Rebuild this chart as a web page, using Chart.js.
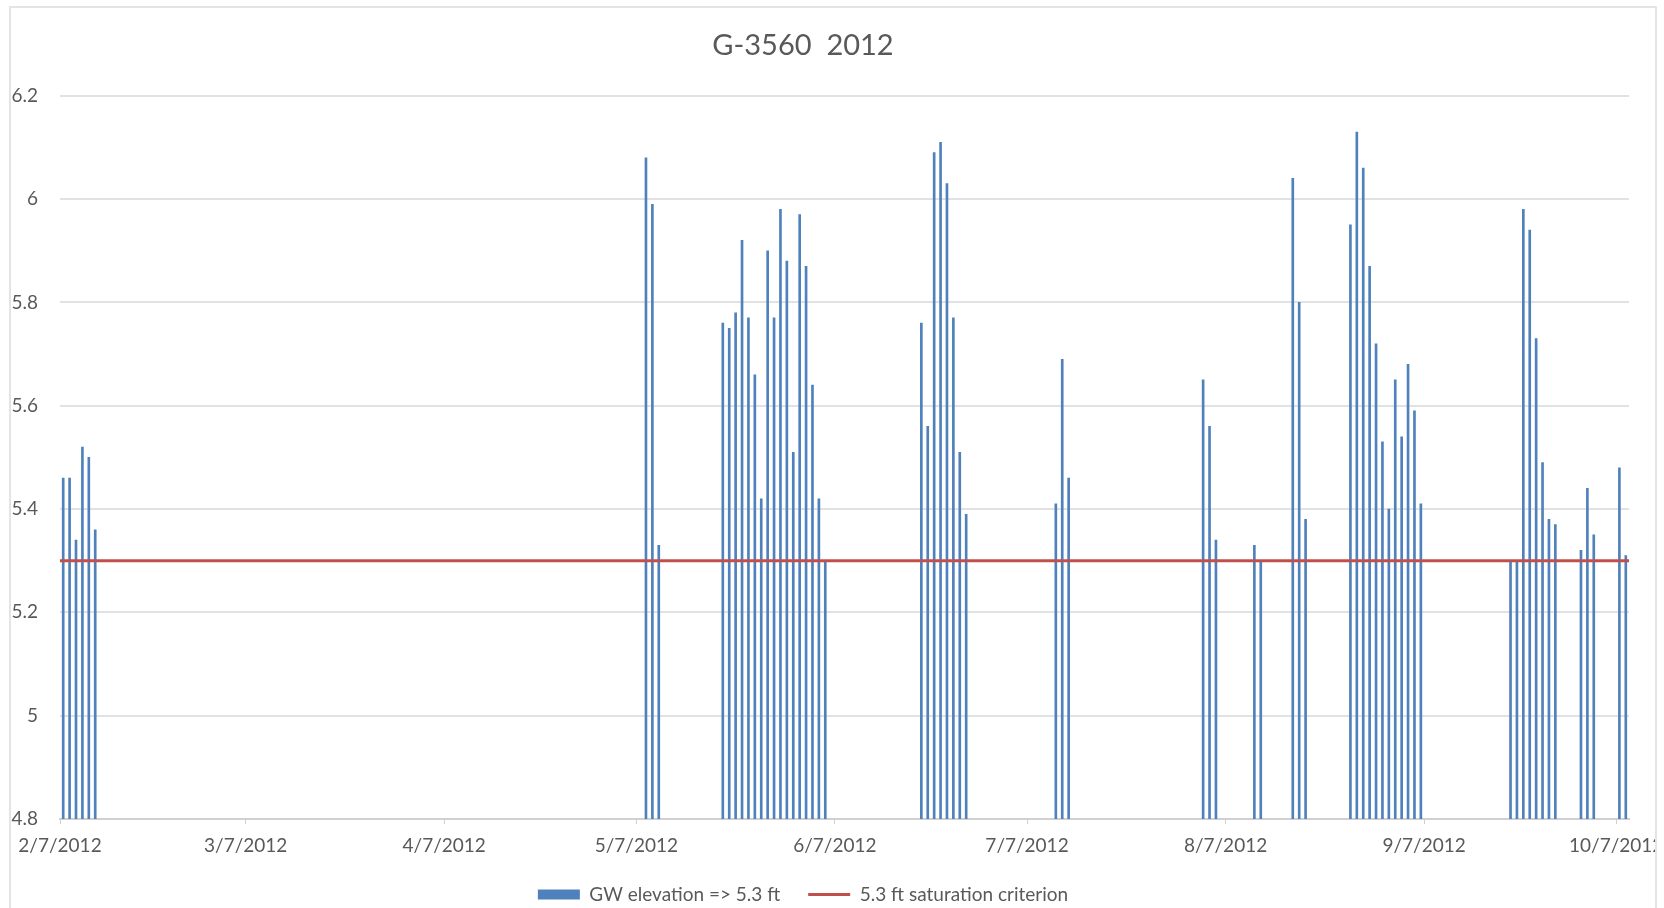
<!DOCTYPE html>
<html>
<head>
<meta charset="utf-8">
<title>G-3560 2012</title>
<script src="https://cdn.jsdelivr.net/npm/chart.js@4.4.1/dist/chart.umd.min.js"></script>
<style>
  html, body { margin: 0; padding: 0; background: #fff; }
  body { width: 1664px; height: 908px; overflow: hidden; position: relative; }
  #frame { position: absolute; left: 9px; top: 6px; width: 1644px; height: 960px; border: 2px solid #e4e4e4; overflow: hidden; }
  #holder { position: absolute; left: -34px; top: -8px; width: 1700px; height: 920px; }
</style>
</head>
<body>
<div id="frame"><div id="holder"><canvas id="chart" width="1700" height="920"></canvas></div></div>
<script>
// Daily readings where the groundwater elevation reached 5.3 ft or more
const gwDates = [
    '2012-02-07', '2012-02-08', '2012-02-09', '2012-02-10', '2012-02-11', '2012-02-12',
    '2012-05-08', '2012-05-09', '2012-05-10',
    '2012-05-20', '2012-05-21', '2012-05-22', '2012-05-23', '2012-05-24', '2012-05-25',
    '2012-05-26', '2012-05-27', '2012-05-28', '2012-05-29', '2012-05-30', '2012-05-31',
    '2012-06-01', '2012-06-02', '2012-06-03', '2012-06-04', '2012-06-05',
    '2012-06-20', '2012-06-21', '2012-06-22', '2012-06-23', '2012-06-24', '2012-06-25',
    '2012-06-26', '2012-06-27',
    '2012-07-11', '2012-07-12', '2012-07-13',
    '2012-08-03', '2012-08-04', '2012-08-05',
    '2012-08-11', '2012-08-12',
    '2012-08-17', '2012-08-18', '2012-08-19',
    '2012-08-26', '2012-08-27', '2012-08-28', '2012-08-29', '2012-08-30', '2012-08-31',
    '2012-09-01', '2012-09-02', '2012-09-03', '2012-09-04', '2012-09-05', '2012-09-06',
    '2012-09-20', '2012-09-21', '2012-09-22', '2012-09-23', '2012-09-24', '2012-09-25',
    '2012-09-26', '2012-09-27',
    '2012-10-01', '2012-10-02', '2012-10-03',
    '2012-10-07', '2012-10-08'
];
const gwElevation = [
    5.46, 5.46, 5.34, 5.52, 5.50, 5.36,
    6.08, 5.99, 5.33,
    5.76, 5.75, 5.78, 5.92, 5.77, 5.66,
    5.42, 5.90, 5.77, 5.98, 5.88, 5.51,
    5.97, 5.87, 5.64, 5.42, 5.30,
    5.76, 5.56, 6.09, 6.11, 6.03, 5.77,
    5.51, 5.39,
    5.41, 5.69, 5.46,
    5.65, 5.56, 5.34,
    5.33, 5.30,
    6.04, 5.80, 5.38,
    5.95, 6.13, 6.06, 5.87, 5.72, 5.53,
    5.40, 5.65, 5.54, 5.68, 5.59, 5.41,
    5.30, 5.30, 5.98, 5.94, 5.73, 5.49,
    5.38, 5.37,
    5.32, 5.44, 5.35,
    5.48, 5.31
];

// Saturation criterion, drawn across the whole date axis
const criterion = 5.3;
const axisStart = '2012-02-07';
const axisEnd = '2012-10-09';

// Date axis ticks
const tickDates = ['2012-02-07', '2012-03-07', '2012-04-07', '2012-05-07', '2012-06-07',
    '2012-07-07', '2012-08-07', '2012-09-07', '2012-10-07'];
const tickLabels = ['2/7/2012', '3/7/2012', '4/7/2012', '5/7/2012', '6/7/2012',
    '7/7/2012', '8/7/2012', '9/7/2012', '10/7/2012'];

const yTicks = { min: 4.8, max: 6.2, step: 0.2 };

// days since the start of the axis
function dayIndex(s) {
    const [y, m, d] = s.split('-').map(Number);
    const [y0, m0, d0] = axisStart.split('-').map(Number);
    return Math.round((Date.UTC(y, m - 1, d) - Date.UTC(y0, m0 - 1, d0)) / 86400000);
}

// each day is one slot, the bar sits in the middle of its day
const barPoints = gwDates.map((d, i) => ({ x: dayIndex(d) + 0.5, y: gwElevation[i] }));
const criterionPoints = [
    { x: dayIndex(axisStart), y: criterion },
    { x: dayIndex(axisEnd), y: criterion }
];
const tickDays = tickDates.map(dayIndex);
const labelForDay = {};
tickDays.forEach((d, i) => { labelForDay[d] = tickLabels[i]; });

const TEXT = '#595959';
Chart.defaults.font.family = 'Lato, "Open Sans", sans-serif';
Chart.defaults.color = TEXT;

const ctx = document.getElementById('chart').getContext('2d');
window.gwChart = new Chart(ctx, {
    type: 'bar',
    data: {
        datasets: [{
            type: 'bar',
            label: 'GW elevation => 5.3 ft',
            data: barPoints,
            backgroundColor: '#4F81BD',
            borderWidth: 0,
            barThickness: 2,
            order: 2
        }, {
            type: 'line',
            label: '5.3 ft saturation criterion',
            data: criterionPoints,
            borderColor: '#C0504D',
            backgroundColor: '#C0504D',
            borderWidth: 3,
            pointRadius: 0,
            order: 1
        }]
    },
    options: {
        responsive: false,
        animation: false,
        layout: { padding: { left: 0, right: 48, top: 0, bottom: 6 } },
        scales: {
            x: {
                type: 'linear',
                min: dayIndex(axisStart),
                max: dayIndex(axisEnd),
                offset: false,
                grid: { display: true, drawOnChartArea: false, drawTicks: true, tickLength: 5, color: '#cfcfcf', offset: false },
                border: { display: true, color: '#d0d0d0', width: 2 },
                ticks: {
                    padding: 10,
                    font: { size: 19 },
                    autoSkip: false,
                    maxRotation: 0,
                    callback: (v) => labelForDay[v] ?? ''
                },
                afterBuildTicks: (scale) => { scale.ticks = tickDays.map(v => ({ value: v })); },
                afterFit: (scale) => { scale.height = 38; }
            },
            y: {
                min: yTicks.min,
                max: yTicks.max,
                beginAtZero: false,
                ticks: {
                    stepSize: yTicks.step,
                    padding: 22,
                    font: { size: 19 },
                    callback: (v) => String(+v.toFixed(1))
                },
                grid: { color: '#e2e2e2', lineWidth: 2, drawTicks: false },
                border: { display: false },
                afterFit: (scale) => { scale.width = 83; }
            }
        },
        plugins: {
            title: {
                display: true,
                text: 'G-3560  2012',
                color: TEXT,
                font: { size: 29, weight: 'normal' },
                padding: { top: 28, bottom: 33 }
            },
            legend: {
                position: 'bottom',
                labels: {
                    usePointStyle: true,
                    pointStyleWidth: 42,
                    boxHeight: 10,
                    padding: 28,
                    color: TEXT,
                    font: { size: 19 },
                    sort: (a, b) => a.datasetIndex - b.datasetIndex,
                    generateLabels: function(chart) {
                        const items = Chart.defaults.plugins.legend.labels.generateLabels(chart);
                        items.forEach(item => {
                            item.pointStyle = item.datasetIndex === 0 ? 'rect' : 'line';
                        });
                        return items;
                    }
                }
            },
            tooltip: { enabled: false }
        }
    }
});
</script>
</body>
</html>
